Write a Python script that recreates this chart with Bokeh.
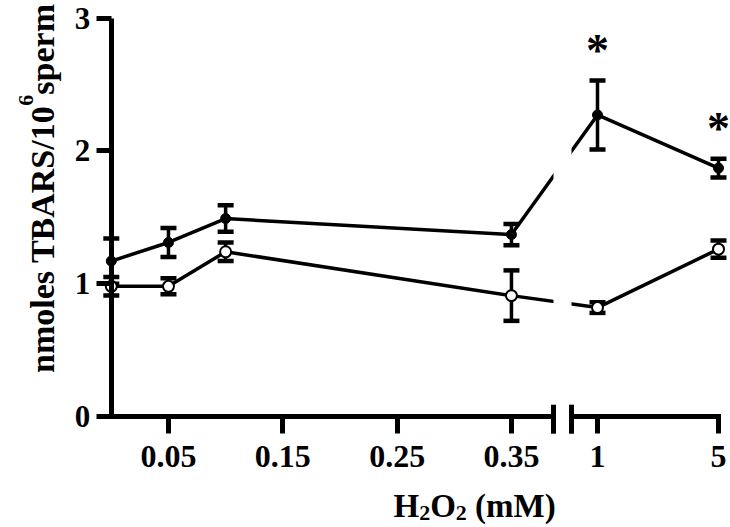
import math
from bokeh.plotting import figure
from bokeh.models import FixedTicker, Label, Range1d
from bokeh.embed import file_html
from bokeh.resources import INLINE
from bokeh.core.properties import value

# ---------------- data ----------------
doses = [0, 0.05, 0.1, 0.35, 1, 5]                      # H2O2 (mM)
filled_mean = [1.17, 1.31, 1.49, 1.37, 2.27, 1.87]      # filled circles
filled_sem = [0.17, 0.11, 0.10, 0.08, 0.26, 0.07]
open_mean = [0.98, 0.98, 1.24, 0.91, 0.82, 1.26]        # open circles
open_sem = [0.07, 0.06, 0.07, 0.19, 0.04, 0.065]
significant = [False, False, False, False, True, True]  # asterisks (filled series)
x_tick_values = [0.05, 0.15, 0.25, 0.35, 1, 5]
x_tick_labels = ["0.05", "0.15", "0.25", "0.35", "1", "5"]
y_tick_values = [0, 1, 2, 3]

# ---------------- layout helpers (pixel -> data) ----------------
W, H = 730, 527
X0PX, SX = 110.8, 1143.3            # x = 0 at this pixel, pixels per x unit
Y0PX = 416.0                        # y = 0 at this pixel
SY = (Y0PX - 17.5) / 3.0            # y = 3 at pixel 17.5


def px_x(px):
    return (px - X0PX) / SX


def px_y(py):
    return (Y0PX - py) / SY


# broken x axis: linear up to 0.35, then two doses placed after the break
BREAK = (px_x(553), px_x(571))
HIGH_POS = {1: px_x(597), 5: px_x(718)}


def axis_pos(d):
    return HIGH_POS[d] if d in HIGH_POS else d


FONT = "Liberation Serif"
xpos = [axis_pos(d) for d in doses]
x_end = axis_pos(doses[-1])

p = figure(width=W, height=H, output_backend="svg", toolbar_location=None,
           x_range=Range1d(px_x(0), px_x(W)), y_range=Range1d(px_y(H), px_y(0)),
           min_border=0)
p.outline_line_color = None
p.grid.visible = False
p.background_fill_color = "white"
p.border_fill_color = "white"

# y axis at x = 0
ya = p.yaxis[0]
ya.fixed_location = 0
ya.bounds = (0, 3)
ya.ticker = FixedTicker(ticks=y_tick_values)
ya.axis_line_width = 5
ya.axis_line_color = "black"
ya.major_tick_line_width = 5
ya.major_tick_out = 15
ya.major_tick_in = 0
ya.minor_tick_line_color = None
ya.major_label_text_font = FONT
ya.major_label_text_font_style = "bold"
ya.major_label_text_font_size = "31px"
ya.major_label_text_color = "black"
ya.major_label_standoff = 6

# x axis at y = 0: ticks and labels; its line is drawn by hand (broken)
xa = p.xaxis[0]
xa.fixed_location = 0
tick_pos = [axis_pos(v) for v in x_tick_values]
xa.ticker = FixedTicker(ticks=tick_pos)
xa.major_label_overrides = {tp: lab for tp, lab in zip(tick_pos, x_tick_labels)}
xa.axis_line_color = None
xa.major_tick_line_color = "black"
xa.major_tick_line_width = 5
xa.major_tick_out = 17
xa.major_tick_in = 0
xa.minor_tick_line_color = None
xa.major_label_text_font = FONT
xa.major_label_text_font_style = "bold"
xa.major_label_text_font_size = "32px"
xa.major_label_text_color = "black"
xa.major_label_standoff = 12

# connecting lines
p.line(xpos, filled_mean, line_width=3.5, line_color="black")
p.line(xpos, open_mean, line_width=3.5, line_color="black")

# gap in the lines across the axis break
p.quad(left=[BREAK[0]], right=[BREAK[1]], bottom=[0.15], top=[3.0],
       fill_color="white", line_color=None)

# x axis line and break marks
p.segment(x0=[0, BREAK[1]], y0=[0, 0], x1=[BREAK[0], x_end], y1=[0, 0],
          line_width=5, line_color="black", line_cap="square")
p.segment(x0=list(BREAK), y0=[11.8 / SY] * 2, x1=list(BREAK),
          y1=[-17.2 / SY] * 2, line_width=5, line_color="black")

# error bars
for mean, sem in ((filled_mean, filled_sem), (open_mean, open_sem)):
    lo = [m - s for m, s in zip(mean, sem)]
    hi = [m + s for m, s in zip(mean, sem)]
    p.segment(x0=xpos, y0=lo, x1=xpos, y1=hi, line_width=3.5, line_color="black")
    p.scatter(xpos + xpos, lo + hi, marker="dash", size=16, line_width=4.5,
              line_color="black")

# markers
p.scatter(xpos, filled_mean, marker="circle", size=10, fill_color="black",
          line_color="black")
p.scatter(xpos, open_mean, marker="circle", size=11, fill_color="white",
          line_color="black", line_width=2)

# significance asterisks
ASTER_SIZE = 46
ast_x = [x for x, s in zip(xpos, significant) if s]
ast_y = [m + e + 0.25 - 3 / SY
         for m, e, s in zip(filled_mean, filled_sem, significant) if s]
p.text(x=ast_x, y=ast_y, text=["*"] * len(ast_x), text_font=value(FONT),
       text_font_size=f"{ASTER_SIZE}px", text_font_style="bold",
       text_align="center", text_baseline="alphabetic", text_color="black")


# ---------------- axis titles built from text pieces ----------------
def lab(text, x, y, size, xo=0, yo=0, angle=0):
    p.add_layout(Label(x=x, y=y, x_offset=xo, y_offset=yo, text=text,
                       text_font=FONT, text_font_style="bold",
                       text_font_size=f"{size}px", text_color="black",
                       text_align="left", text_baseline="alphabetic",
                       angle=angle))


# x title: H2O2 (mM)
XS, XSUB = 33, 22
xt_x, xt_y = px_x(393), px_y(505)
w_big = 0.778 * XS
w_sub = 0.5 * XSUB
lab("H", xt_x, xt_y, XS)
lab("2", xt_x, xt_y, XSUB, xo=w_big, yo=-7)
lab("O", xt_x, xt_y, XS, xo=w_big + w_sub)
lab("2", xt_x, xt_y, XSUB, xo=2 * w_big + w_sub, yo=-7)
lab("(mM)", xt_x, xt_y, XS, xo=2 * w_big + 2 * w_sub + 0.25 * XS)

# y title: nmoles TBARS/10^6 sperm (rotated)
YS, YSUP = 34, 22
yt_x, yt_y = px_x(42), px_y(372.5)
main_len = 7.862 * YS
lab("nmoles TBARS/10", yt_x, yt_y, YS, angle=math.pi / 2)
lab("6", yt_x, yt_y, YSUP, xo=-17, yo=main_len, angle=math.pi / 2)
lab("sperm", yt_x, yt_y, YS, yo=main_len + 0.5 * YSUP, angle=math.pi / 2)

open("out.html", "w").write(file_html(p, INLINE))
